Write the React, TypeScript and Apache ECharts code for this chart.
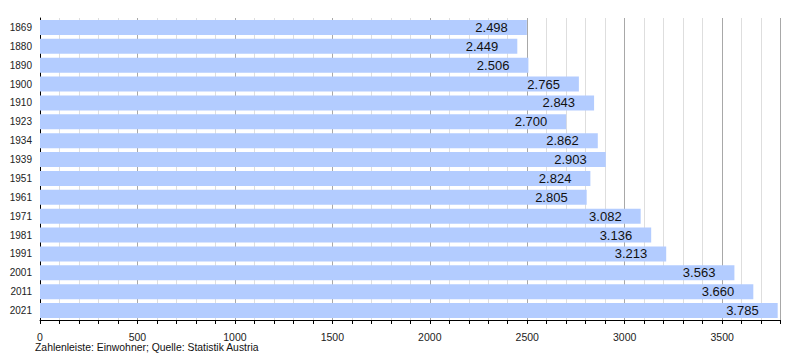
import React, { useEffect, useRef } from "react";
import * as echarts from "echarts";

const years = ["1869", "1880", "1890", "1900", "1910", "1923", "1934", "1939", "1951", "1961", "1971", "1981", "1991", "2001", "2011", "2021"];
const population = [2498, 2449, 2506, 2765, 2843, 2700, 2862, 2903, 2824, 2805, 3082, 3136, 3213, 3563, 3660, 3785];
const caption = "Zahlenleiste: Einwohner; Quelle: Statistik Austria";

const fmt = (v: number) => String(v).replace(/\B(?=(\d{3})+(?!\d))/g, ".");

export default function App() {
  const ref = useRef<HTMLDivElement>(null);
  useEffect(() => {
    document.body.style.margin = "0";
    const chart = echarts.init(ref.current!, null, { renderer: "svg" });
    const font = "Liberation Sans, Arial, sans-serif";
    chart.setOption({
      animation: false,
      textStyle: { fontFamily: font },
      grid: { left: 40, top: 18, width: 740.6, height: 302, containLabel: false },
      xAxis: {
        type: "value",
        min: 0,
        max: 3800,
        interval: 500,
        axisLine: { show: true, lineStyle: { color: "#000", width: 1 } },
        axisTick: { show: true, length: 4, lineStyle: { color: "#000" } },
        minorTick: { show: true, splitNumber: 5, length: 4, lineStyle: { color: "#000" } },
        splitLine: { show: true, lineStyle: { color: "#a8a8a8", width: 1 } },
        minorSplitLine: { show: true, lineStyle: { color: "#dedede", width: 1 } },
        axisLabel: {
          color: "#222",
          fontSize: 10.5,
          fontFamily: font,
          margin: 11,
          formatter: (v: number) => (v > 3500 ? "" : String(v)),
        },
      },
      yAxis: {
        type: "category",
        data: years,
        inverse: true,
        axisLine: { show: true, lineStyle: { color: "#000", width: 1 } },
        axisTick: { show: false },
        axisLabel: { color: "#222", fontSize: 10, fontFamily: font, margin: 8 },
      },
      series: [
        {
          type: "bar",
          data: population,
          barCategoryGap: "20%",
          itemStyle: { color: "#b3ccff" },
          label: {
            show: true,
            position: "insideRight",
            offset: [-14, 0],
            color: "#111",
            fontSize: 13,
            fontFamily: font,
            formatter: (p: any) => fmt(p.value),
          },
        },
      ],
      graphic: [
        {
          type: "text",
          left: 35,
          top: 342,
          style: { text: caption, fill: "#111", fontSize: 10.4, fontFamily: font },
        },
      ],
    });
    return () => chart.dispose();
  }, []);
  return <div ref={ref} style={{ width: 800, height: 360 }} />;
}
